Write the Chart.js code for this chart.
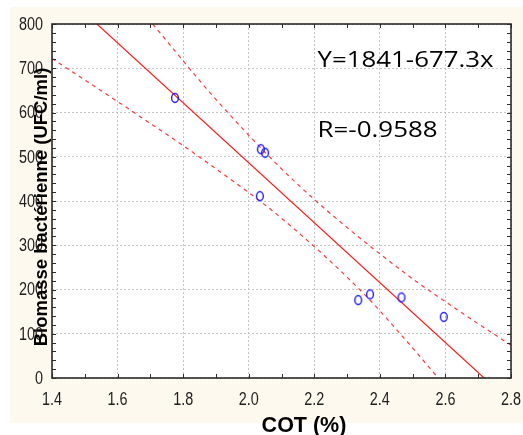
<!DOCTYPE html>
<html>
<head>
<meta charset="utf-8">
<script src="https://cdn.jsdelivr.net/npm/chart.js@4"></script>
<style>
  html, body { margin: 0; padding: 0; background: #fff; }
  #wrap { width: 523px; height: 435px; }
</style>
</head>
<body>
<div id="wrap"><canvas id="cotChart" width="523" height="435"></canvas></div>
<script>
// measured samples: COT (%) vs bacterial biomass
const cotValues = [1.775, 2.037, 2.05, 2.034, 2.334, 2.37, 2.466, 2.595];
const biomassValues = [633, 517, 509, 411, 176, 189, 182, 138];

// regression Y = a + b x
const fitA = 1841;
const fitB = -677.3;
const fitR = -0.9588;
const fitRange = [1.4, 2.8];

// 95% confidence band
const upperBandX = [1.707, 1.902, 2.146, 2.471, 2.675, 2.8];
const upperBandY = [800, 628, 440, 240, 135, 74];
const lowerBandX = [1.4, 1.638, 1.877, 2.10, 2.345, 2.461, 2.578];
const lowerBandY = [722, 606, 485, 361, 195, 101, 0];

const xTicks = [1.4, 1.6, 1.8, 2.0, 2.2, 2.4, 2.6, 2.8];
const yTicks = [0, 100, 200, 300, 400, 500, 600, 700, 800];

const toPoints = (xs, ys) => xs.map((x, i) => ({ x: x, y: ys[i] }));

// hollow blue ellipse used as marker
const marker = document.createElement('canvas');
marker.width = 10;
marker.height = 12;
(function () {
  const c = marker.getContext('2d');
  c.strokeStyle = '#1a1aff';
  c.lineWidth = 1.4;
  c.beginPath();
  c.ellipse(5, 6, 3.4, 4.5, 0, 0, Math.PI * 2);
  c.stroke();
})();

// narrow-looking tick text: regular face squeezed horizontally
function squeezedText(ctx, text, x, y, sx) {
  ctx.save();
  ctx.translate(x, y);
  ctx.scale(sx, 1);
  ctx.fillText(text, 0, 0);
  ctx.restore();
}

const framePlugin = {
  id: 'frame',
  beforeDraw(chart) {
    const ctx = chart.ctx;
    const a = chart.chartArea;
    ctx.save();
    ctx.fillStyle = '#ffffff';
    ctx.fillRect(0, 0, chart.width, chart.height);
    ctx.fillStyle = '#fef9ee';
    ctx.fillRect(10, 7, chart.width - 10, 416);
    ctx.fillStyle = '#ffffff';
    ctx.fillRect(a.left, a.top, a.right - a.left, a.bottom - a.top);
    ctx.restore();
  },
  afterDatasetsDraw(chart) {
    const ctx = chart.ctx;
    const a = chart.chartArea;
    const xs = chart.scales.x;
    const ys = chart.scales.y;
    ctx.save();
    ctx.strokeStyle = '#2b2b2b';
    ctx.lineWidth = 1;
    ctx.beginPath();
    // minor + major ticks pointing inward on all four sides
    for (let k = 0; k <= 14; k++) {
      const px = Math.round(xs.getPixelForValue(1.4 + k * 0.1)) + 0.5;
      ctx.moveTo(px, a.bottom); ctx.lineTo(px, a.bottom - 4);
      ctx.moveTo(px, a.top); ctx.lineTo(px, a.top + 4);
    }
    for (let k = 0; k <= 40; k++) {
      const py = Math.round(ys.getPixelForValue(k * 20)) + 0.5;
      ctx.moveTo(a.left, py); ctx.lineTo(a.left + 4, py);
      ctx.moveTo(a.right, py); ctx.lineTo(a.right - 4, py);
    }
    ctx.stroke();
    ctx.lineWidth = 1.6;
    ctx.strokeRect(a.left, a.top, a.right - a.left, a.bottom - a.top);
    ctx.restore();
  },
  afterDraw(chart) {
    const ctx = chart.ctx;
    const a = chart.chartArea;
    const xs = chart.scales.x;
    const ys = chart.scales.y;
    ctx.save();

    // tick labels
    ctx.fillStyle = '#1e1e1e';
    ctx.font = '18px "Liberation Sans", Arial, sans-serif';
    ctx.textBaseline = 'middle';
    ctx.textAlign = 'right';
    ys.ticks.forEach(t => {
      squeezedText(ctx, String(t.value), a.left - 9, ys.getPixelForValue(t.value) + 1, 0.8);
    });
    ctx.textAlign = 'center';
    xs.ticks.forEach(t => {
      squeezedText(ctx, t.value.toFixed(1), xs.getPixelForValue(t.value), a.bottom + 22, 0.8);
    });

    ctx.fillStyle = '#000';
    // axis titles
    ctx.font = 'bold 21.5px "Liberation Sans", Arial, sans-serif';
    ctx.textAlign = 'center';
    ctx.textBaseline = 'alphabetic';
    ctx.fillText('COT (%)', 304, 432);

    ctx.save();
    ctx.translate(47, 207);
    ctx.rotate(-Math.PI / 2);
    ctx.font = 'bold 18.5px "Liberation Sans", Arial, sans-serif';
    ctx.fillText('Biomasse bactérienne (UFC/ml)', 0, 0);
    ctx.restore();

    // regression annotation
    const notes = [
      { text: 'Y=' + fitA + '-' + Math.abs(fitB) + 'x', x: 2.21, y: 703, w: 176 },
      { text: 'R=' + fitR, x: 2.21, y: 544, w: 120 }
    ];
    ctx.font = '22px "Open Sans", sans-serif';
    ctx.textAlign = 'left';
    notes.forEach(n => {
      const m = ctx.measureText(n.text).width;
      squeezedText(ctx, n.text, xs.getPixelForValue(n.x), ys.getPixelForValue(n.y), n.w / m);
    });
    ctx.restore();
  }
};

new Chart(document.getElementById('cotChart'), {
  type: 'scatter',
  data: {
    datasets: [
      {
        label: 'Biomasse',
        data: toPoints(cotValues, biomassValues),
        pointStyle: marker,
        pointRadius: 5,
        showLine: false
      },
      {
        label: 'Régression',
        data: fitRange.map(x => ({ x: x, y: fitA + fitB * x })),
        showLine: true,
        borderColor: '#ff1a1a',
        borderWidth: 1.2,
        pointRadius: 0
      },
      {
        label: 'IC sup',
        data: toPoints(upperBandX, upperBandY),
        showLine: true,
        cubicInterpolationMode: 'monotone',
        borderColor: '#ff3b3b',
        borderWidth: 1.2,
        borderDash: [4, 4],
        pointRadius: 0
      },
      {
        label: 'IC inf',
        data: toPoints(lowerBandX, lowerBandY),
        showLine: true,
        cubicInterpolationMode: 'monotone',
        borderColor: '#ff3b3b',
        borderWidth: 1.2,
        borderDash: [4, 4],
        pointRadius: 0
      }
    ]
  },
  options: {
    responsive: false,
    animation: false,
    events: [],
    layout: { padding: { left: 0, top: 24, right: 12, bottom: 0 } },
    plugins: { legend: { display: false }, tooltip: { enabled: false } },
    scales: {
      x: {
        type: 'linear',
        min: 1.4,
        max: 2.8,
        afterBuildTicks: s => { s.ticks = xTicks.map(v => ({ value: v })); },
        afterFit: s => { s.height = 57; },
        grid: { color: '#c4c4c4', lineWidth: 1, drawTicks: false },
        border: { display: false, dash: [2, 2] },
        ticks: { display: false }
      },
      y: {
        type: 'linear',
        min: 0,
        max: 800,
        afterBuildTicks: s => { s.ticks = yTicks.map(v => ({ value: v })); },
        afterFit: s => { s.width = 52; },
        grid: { color: '#c4c4c4', lineWidth: 1, drawTicks: false },
        border: { display: false, dash: [2, 2] },
        ticks: { display: false }
      }
    }
  },
  plugins: [framePlugin]
});
</script>
</body>
</html>
